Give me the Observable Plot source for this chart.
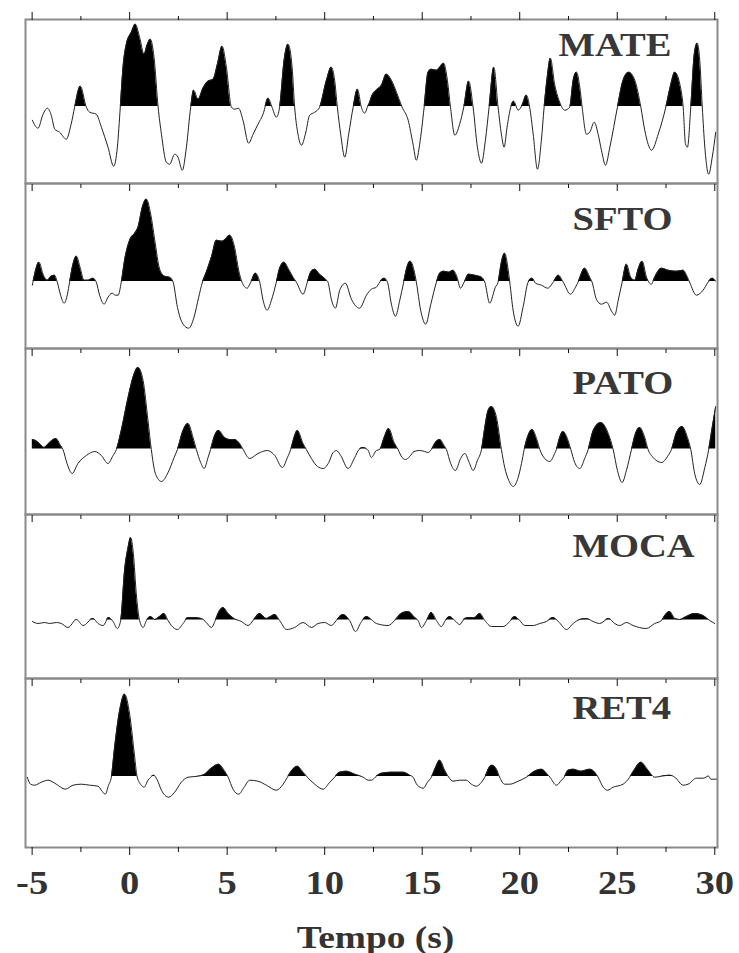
<!DOCTYPE html>
<html>
<head>
<meta charset="utf-8">
<script src="https://cdn.jsdelivr.net/npm/d3@7"></script>
<script src="https://cdn.jsdelivr.net/npm/@observablehq/plot@0.6"></script>
<style>
  html, body { margin: 0; padding: 0; background: #fff; }
  #chart { width: 739px; }
  #chart svg { display: block; }
</style>
</head>
<body>
<div id="chart"></div>
<script>
// Station names (panel order, top to bottom)
const stations = ["MATE", "SFTO", "PATO", "MOCA", "RET4"];

// Axis ticks (time, s)
const majorTicks = [-5, 0, 5, 10, 15, 20, 25, 30];
const minorTicks = [-2.5, 2.5, 7.5, 12.5, 17.5, 22.5, 27.5];
const tickLabels = ["-5", "0", "5", "10", "15", "20", "25", "30"];
const xLabel = "Tempo (s)";

// Receiver-function traces: [time (s), amplitude]
const MATE = [[-4.99,-0.13],[-4.70,-0.21],[-4.44,-0.07],[-4.22,-0.01],[-4.02,-0.08],[-3.84,-0.22],[-3.59,-0.25],[-3.25,-0.32],[-3.00,-0.17],[-2.82,0],[-2.53,0.21],[-2.22,0],[-2.05,-0.05],[-1.71,-0.07],[-1.45,-0.20],[-1.11,-0.40],[-0.82,-0.59],[-0.63,-0.40],[-0.48,0],[-0.34,0.40],[-0.17,0.63],[0.09,0.75],[0.29,0.83],[0.51,0.70],[0.74,0.53],[0.89,0.62],[1.06,0.68],[1.25,0.50],[1.46,0],[1.63,-0.27],[1.88,-0.55],[2.05,-0.57],[2.31,-0.47],[2.48,-0.50],[2.70,-0.63],[2.91,-0.40],[3.13,0],[3.28,0.17],[3.51,0.08],[3.76,0.19],[4.02,0.26],[4.28,0.28],[4.50,0.43],[4.74,0.61],[4.96,0.40],[5.22,0],[5.38,-0.02],[5.58,-0.01],[5.81,-0.13],[6.10,-0.36],[6.33,-0.27],[6.58,-0.17],[6.84,-0.07],[7.10,0.09],[7.30,0],[7.52,-0.10],[7.69,0],[7.92,0.47],[8.12,0.63],[8.33,0.40],[8.46,0],[8.63,-0.27],[8.81,-0.38],[9.01,-0.27],[9.23,-0.08],[9.49,-0.05],[9.74,0],[10.09,0.27],[10.34,0.40],[10.51,0.27],[10.65,0],[10.82,-0.27],[11.03,-0.50],[11.23,-0.27],[11.46,0],[11.68,0.18],[11.88,0],[12.05,-0.06],[12.19,0],[12.31,0.05],[12.39,0.10],[12.65,0.17],[12.91,0.22],[13.16,0.33],[13.42,0.27],[13.68,0.15],[13.97,0],[14.28,-0.13],[14.53,-0.37],[14.70,-0.53],[14.87,-0.37],[15.10,0],[15.30,0.35],[15.47,0.38],[15.73,0.37],[15.90,0.40],[16.10,0.44],[16.29,0.27],[16.45,0],[16.67,-0.28],[16.92,-0.17],[17.13,0],[17.38,0.26],[17.61,0],[17.83,-0.40],[18.04,-0.56],[18.24,-0.33],[18.43,0],[18.67,0.40],[18.89,0],[19.06,-0.27],[19.20,-0.40],[19.35,-0.20],[19.54,0],[19.69,0.06],[19.92,-0.03],[20.12,0.02],[20.34,0.12],[20.51,0],[20.69,-0.27],[20.91,-0.62],[21.11,-0.33],[21.25,0],[21.41,0.30],[21.57,0.49],[21.79,0.23],[22.05,0.05],[22.31,-0.03],[22.56,0],[22.74,0.27],[22.91,0.35],[23.08,0.20],[23.20,0],[23.42,-0.27],[23.59,-0.25],[23.82,-0.15],[24.02,-0.27],[24.19,-0.43],[24.40,-0.58],[24.62,-0.40],[25.01,0],[25.30,0.27],[25.59,0.35],[25.90,0.27],[26.21,0],[26.41,-0.23],[26.76,-0.43],[27.10,-0.27],[27.49,0],[27.75,0.23],[27.95,0.35],[28.21,0.23],[28.38,0],[28.50,-0.37],[28.60,-0.40],[28.77,0],[28.95,0.53],[29.10,0.64],[29.23,0.47],[29.36,0],[29.49,-0.40],[29.69,-0.67],[29.87,-0.50],[30.05,-0.25]];

const SFTO = [[-4.99,-0.03],[-4.87,0.08],[-4.65,0.20],[-4.44,0.08],[-4.22,0.02],[-4.02,0.06],[-3.85,0.07],[-3.71,0],[-3.54,-0.13],[-3.36,-0.21],[-3.19,-0.12],[-3.08,0],[-2.94,0.15],[-2.73,0.26],[-2.53,0.14],[-2.34,0.02],[-2.13,0.02],[-1.88,0.04],[-1.71,0],[-1.54,-0.13],[-1.31,-0.22],[-1.11,-0.15],[-0.90,-0.11],[-0.73,-0.13],[-0.59,-0.13],[-0.43,0],[-0.26,0.22],[0.00,0.42],[0.26,0.49],[0.43,0.55],[0.65,0.75],[0.86,0.83],[1.08,0.68],[1.28,0.43],[1.54,0.13],[1.79,0.06],[2.05,0.05],[2.23,0],[2.45,-0.25],[2.74,-0.42],[3.03,-0.46],[3.30,-0.35],[3.54,-0.15],[3.73,0],[3.93,0.10],[4.19,0.25],[4.45,0.42],[4.74,0.41],[4.91,0.43],[5.13,0.47],[5.38,0.35],[5.59,0.12],[5.76,0],[6.02,-0.06],[6.21,0],[6.45,0.09],[6.67,0],[6.84,-0.18],[7.05,-0.28],[7.27,-0.18],[7.52,0],[7.69,0.14],[7.92,0.20],[8.15,0.13],[8.38,0.05],[8.55,0],[8.89,-0.12],[9.11,0],[9.28,0.10],[9.49,0.13],[9.74,0.08],[10.09,0.02],[10.17,0],[10.34,-0.17],[10.55,-0.26],[10.77,-0.08],[11.06,-0.01],[11.37,-0.17],[11.79,-0.26],[12.14,-0.13],[12.39,-0.07],[12.65,-0.05],[12.82,0],[13.05,0.04],[13.22,0],[13.42,-0.22],[13.63,-0.34],[13.85,-0.18],[14.05,0],[14.19,0.13],[14.39,0.21],[14.58,0.12],[14.70,0],[14.92,-0.28],[15.18,-0.42],[15.44,-0.22],[15.73,0],[15.90,0.09],[16.12,0.11],[16.36,0.10],[16.58,0.12],[16.79,0.05],[16.96,-0.06],[17.15,0],[17.38,0.08],[17.69,0.07],[18.04,0.05],[18.21,0],[18.46,-0.21],[18.75,-0.05],[18.89,0],[19.06,0.20],[19.23,0.29],[19.41,0.12],[19.49,0],[19.66,-0.28],[19.92,-0.44],[20.17,-0.25],[20.43,0],[20.64,0.04],[20.81,-0.01],[21.12,-0.03],[21.43,-0.06],[21.72,0],[21.98,0.07],[22.23,0],[22.60,-0.12],[22.86,-0.05],[22.99,0],[23.33,0.14],[23.59,0.05],[23.71,0],[23.93,-0.17],[24.19,-0.22],[24.45,-0.20],[24.71,-0.29],[24.87,-0.33],[25.05,-0.18],[25.25,0],[25.47,0.18],[25.69,0.05],[25.90,0.02],[26.07,0.13],[26.28,0.21],[26.50,0.05],[26.75,-0.02],[26.92,0.05],[27.27,0.14],[27.61,0.12],[28.04,0.11],[28.38,0.12],[28.60,0.05],[28.71,0],[29.06,-0.13],[29.40,-0.08],[29.66,0],[29.87,0.04],[30.05,0.01]];

const PATO = [[-4.99,0.10],[-4.82,0.09],[-4.62,0.06],[-4.39,0.02],[-4.10,0.07],[-3.79,0.11],[-3.54,0.04],[-3.42,0],[-3.21,-0.14],[-2.95,-0.24],[-2.65,-0.14],[-2.22,-0.06],[-1.79,-0.02],[-1.45,-0.06],[-1.11,-0.14],[-0.85,-0.06],[-0.68,0],[-0.43,0.19],[-0.08,0.52],[0.17,0.72],[0.43,0.82],[0.69,0.69],[0.94,0.29],[1.11,0],[1.32,-0.24],[1.63,-0.32],[1.97,-0.23],[2.28,-0.08],[2.45,0],[2.74,0.19],[2.99,0.26],[3.25,0.12],[3.42,0],[3.64,-0.13],[3.82,-0.19],[4.02,-0.08],[4.15,0],[4.36,0.14],[4.56,0.19],[4.87,0.12],[5.13,0.10],[5.38,0.10],[5.64,0.06],[5.82,0],[6.15,-0.09],[6.58,-0.04],[7.06,-0.01],[7.44,-0.06],[7.83,-0.18],[8.09,-0.08],[8.26,0],[8.43,0.12],[8.60,0.19],[8.89,0.06],[9.06,0],[9.32,-0.09],[9.63,-0.17],[9.92,-0.19],[10.21,-0.13],[10.43,-0.03],[10.60,-0.01],[10.82,-0.06],[11.20,-0.19],[11.54,-0.08],[11.76,0],[11.97,0.02],[12.23,-0.01],[12.39,-0.08],[12.65,-0.01],[12.82,0],[13.05,0.12],[13.28,0.21],[13.56,0.07],[13.76,0],[13.97,-0.08],[14.15,-0.10],[14.36,-0.07],[14.58,-0.02],[14.87,-0.01],[15.13,-0.02],[15.30,-0.03],[15.47,0],[15.68,0.07],[15.90,0.10],[16.12,0.04],[16.24,0],[16.46,-0.14],[16.70,-0.21],[16.97,-0.09],[17.18,-0.04],[17.41,-0.13],[17.61,-0.21],[17.83,-0.11],[18.04,0],[18.21,0.22],[18.38,0.39],[18.55,0.43],[18.81,0.32],[19.06,0],[19.23,-0.18],[19.44,-0.31],[19.66,-0.37],[19.92,-0.28],[20.09,-0.14],[20.23,0],[20.43,0.14],[20.64,0.20],[20.86,0.11],[21.03,0],[21.28,-0.09],[21.54,-0.12],[21.79,-0.04],[21.88,0],[22.05,0.12],[22.22,0.18],[22.48,0.09],[22.62,0],[22.82,-0.13],[23.08,-0.19],[23.33,-0.09],[23.51,0],[23.77,0.19],[24.16,0.27],[24.54,0.16],[24.79,0],[25.01,-0.21],[25.25,-0.33],[25.47,-0.21],[25.73,0],[25.94,0.16],[26.15,0.22],[26.41,0.12],[26.58,0],[26.84,-0.08],[27.27,-0.13],[27.61,-0.06],[27.78,0],[28.04,0.17],[28.33,0.23],[28.60,0.12],[28.77,0],[28.97,-0.24],[29.23,-0.35],[29.49,-0.18],[29.69,0],[29.87,0.22],[30.05,0.43]];

const MOCA = [[-4.99,-0.01],[-4.70,-0.03],[-4.36,-0.02],[-4.10,-0.03],[-3.76,-0.02],[-3.50,-0.03],[-3.16,-0.07],[-2.73,0.01],[-2.39,-0.05],[-1.88,0.02],[-1.62,-0.03],[-1.36,-0.05],[-1.08,0.03],[-0.85,-0.01],[-0.63,-0.08],[-0.46,0],[-0.26,0.50],[-0.08,0.73],[0.05,0.83],[0.19,0.67],[0.34,0.27],[0.51,0],[0.69,-0.07],[0.86,0],[1.08,0.04],[1.28,0.01],[1.54,0.04],[1.76,0.07],[1.97,0],[2.14,-0.05],[2.45,-0.09],[2.74,-0.03],[2.99,0.03],[3.25,0.03],[3.68,0.02],[3.93,-0.02],[4.19,-0.07],[4.39,0],[4.56,0.08],[4.79,0.13],[5.05,0.07],[5.35,0.02],[5.73,-0.01],[6.07,-0.05],[6.33,0],[6.67,0.07],[7.01,0.02],[7.23,0.04],[7.44,0.06],[7.69,0],[8.04,-0.09],[8.46,-0.07],[8.89,-0.02],[9.32,-0.07],[9.66,-0.03],[10.00,-0.02],[10.34,-0.05],[10.60,0],[10.94,0.06],[11.28,0],[11.58,-0.11],[11.86,-0.02],[12.15,0.04],[12.39,0.01],[12.65,-0.03],[13.25,-0.05],[13.59,0],[13.93,0.07],[14.28,0.09],[14.62,0.03],[14.79,0],[14.96,-0.07],[15.22,0],[15.47,0.08],[15.73,0],[15.98,-0.06],[16.19,0],[16.41,0.04],[16.67,0],[16.92,-0.04],[17.18,0.02],[17.44,0.03],[17.69,0.03],[17.95,0.07],[18.21,0],[18.55,-0.06],[19.15,-0.06],[19.49,-0.01],[19.74,0.04],[20.00,0],[20.26,-0.05],[20.69,-0.05],[21.03,-0.03],[21.37,-0.01],[21.71,0.03],[21.98,-0.01],[22.40,-0.09],[22.74,-0.03],[23.08,0.01],[23.42,0.02],[23.76,-0.01],[24.10,-0.03],[24.56,0.02],[24.87,-0.03],[25.13,-0.05],[25.47,-0.02],[25.81,-0.05],[26.49,-0.08],[26.92,-0.03],[27.27,0],[27.44,0.05],[27.69,0.09],[27.95,0.02],[28.21,0.01],[28.55,0.04],[28.97,0.07],[29.40,0.05],[29.74,0],[30.00,-0.03]];

const RET4 = [[-5.25,0],[-5.08,-0.07],[-4.87,-0.08],[-4.53,-0.05],[-4.18,-0.03],[-3.76,-0.07],[-3.30,-0.12],[-2.90,-0.08],[-2.48,-0.07],[-2.05,-0.08],[-1.62,-0.09],[-1.45,-0.13],[-1.25,-0.17],[-1.08,-0.08],[-0.94,0],[-0.77,0.30],[-0.51,0.67],[-0.26,0.83],[0.00,0.63],[0.22,0.27],[0.39,0],[0.60,-0.08],[0.74,-0.10],[0.94,-0.03],[1.08,0],[1.23,0.02],[1.42,-0.03],[1.63,-0.13],[2.00,-0.20],[2.31,-0.15],[2.65,-0.05],[2.99,0],[3.51,0.01],[3.85,0.03],[4.19,0.09],[4.56,0.13],[4.84,0.07],[5.05,0],[5.30,-0.12],[5.59,-0.17],[5.87,-0.10],[6.15,-0.03],[6.58,-0.04],[7.01,-0.08],[7.52,-0.13],[7.87,-0.07],[8.09,0],[8.33,0.07],[8.60,0.11],[8.89,0.05],[9.11,0],[9.49,-0.07],[9.92,-0.12],[10.26,-0.05],[10.51,0],[10.77,0.05],[11.11,0.06],[11.54,0.03],[11.97,0],[12.23,-0.03],[12.39,-0.03],[12.65,0.01],[12.91,0.04],[13.42,0.05],[14.02,0.05],[14.36,0.02],[14.53,0],[14.75,-0.08],[15.05,-0.11],[15.27,-0.05],[15.47,0],[15.69,0.10],[15.90,0.17],[16.15,0.07],[16.36,0],[16.58,-0.04],[16.92,-0.03],[17.26,-0.03],[17.52,-0.07],[17.77,-0.09],[18.04,-0.05],[18.21,0],[18.41,0.09],[18.58,0.12],[18.81,0.08],[18.97,0],[19.23,-0.07],[19.49,-0.07],[19.92,-0.04],[20.34,0],[20.77,0.06],[21.11,0.08],[21.46,0.02],[21.55,0],[21.88,-0.08],[22.14,-0.03],[22.28,0],[22.48,0.07],[22.74,0.08],[23.13,0.06],[23.59,0.08],[23.85,0.05],[24.02,0],[24.28,-0.10],[24.50,-0.13],[24.79,-0.10],[25.30,-0.07],[25.64,0],[25.90,0.08],[26.21,0.15],[26.58,0.07],[26.92,0],[27.27,0.01],[27.69,0.02],[27.95,0],[28.38,-0.08],[28.63,-0.07],[29.06,-0.01],[29.40,-0.01],[29.69,0.01],[29.80,-0.02],[30.13,-0.02]];

const traces = [MATE, SFTO, PATO, MOCA, RET4];

// ---- layout (per panel) ----
const W = 739;
const xDomain = [-5.34, 30.14];
const panelCfg = [
  {height: 183, marginTop: 19, marginBottom: 0, yDomain: [-0.763, 0.877], labelDx: 533, labelDy: 36},
  {height: 165, marginTop: 0, marginBottom: 0, yDomain: [-0.663, 0.987], labelDx: 547, labelDy: 46},
  {height: 166, marginTop: 0, marginBottom: 0, yDomain: [-0.65, 1.01], labelDx: 547, labelDy: 45},
  {height: 164, marginTop: 0, marginBottom: 0, yDomain: [-0.58, 1.06], labelDx: 547, labelDy: 42},
  {height: 275, marginTop: 0, marginBottom: 106, yDomain: [-0.703, 0.987], labelDx: 547, labelDy: 40}
];
const textStretch = 1.17; // the original lettering is set wide

const root = document.getElementById("chart");
const tx = d => d[0], ty = d => d[1];

stations.forEach((name, i) => {
  const cfg = panelCfg[i];
  const data = traces[i];
  const first = i === 0, last = i === stations.length - 1;
  const marks = [
    Plot.areaY(data, {x: tx, y1: 0, y2: ty, curve: "monotone-x", fill: "black"}),
    Plot.line(data, {x: tx, y: ty, curve: "monotone-x", stroke: "#222", strokeWidth: 1}),
    Plot.frame({stroke: "#8a8a8a", strokeWidth: 2}),
    Plot.axisX(majorTicks, {anchor: "top", tickSize: first ? 8 : -7, fill: "none", stroke: "#111", label: null}),
    Plot.axisX(minorTicks, {anchor: "top", tickSize: first ? 4 : -4, fill: "none", stroke: "#111", label: null}),
    Plot.text([name], {frameAnchor: "top-left", dx: cfg.labelDx, dy: cfg.labelDy, lineAnchor: "bottom",
      textAnchor: "start", fontSize: 33, fontWeight: "bold", fill: "#383838"})
  ];
  if (last) {
    marks.push(
      Plot.axisX(majorTicks, {anchor: "bottom", tickSize: 8, tickPadding: 15, stroke: "#111", fill: "#333",
        fontSize: 33, fontWeight: "bold", label: null,
        tickFormat: d => tickLabels[majorTicks.indexOf(d)]}),
      Plot.axisX(minorTicks, {anchor: "bottom", tickSize: 5, fill: "none", stroke: "#111", label: null}),
      Plot.text([xLabel], {frameAnchor: "bottom", dx: 4, dy: 100, lineAnchor: "bottom",
        fontSize: 32, fontWeight: "bold", fill: "#333"})
    );
  }
  const plot = Plot.plot({
    width: W,
    height: cfg.height,
    marginLeft: 25,
    marginRight: 22,
    marginTop: cfg.marginTop,
    marginBottom: cfg.marginBottom,
    x: {domain: xDomain, axis: null},
    y: {domain: cfg.yDomain, axis: null},
    style: {fontFamily: "'Liberation Serif', 'Times New Roman', serif", fontWeight: "bold", background: "white", overflow: "visible"},
    marks
  });
  // clip filled area to the positive side of the zero line
  const svg = d3.select(plot);
  const y0 = plot.scale("y").apply(0);
  const id = "pos-clip-" + i;
  svg.insert("defs", ":first-child")
    .append("clipPath").attr("id", id)
    .append("rect").attr("x", 0).attr("y", -50).attr("width", W).attr("height", y0 + 50 - 0.6);
  svg.selectAll('g[aria-label="area"]').attr("clip-path", `url(#${id})`);
  // widen lettering horizontally around each label's own anchor
  svg.selectAll("text").each(function() {
    const t = d3.select(this);
    if (t.attr("x") != null) return;
    const tr = t.attr("transform") || "";
    t.attr("transform", (tr + ` scale(${textStretch},1)`).trim());
  });
  root.appendChild(plot);
});
</script>
</body>
</html>
